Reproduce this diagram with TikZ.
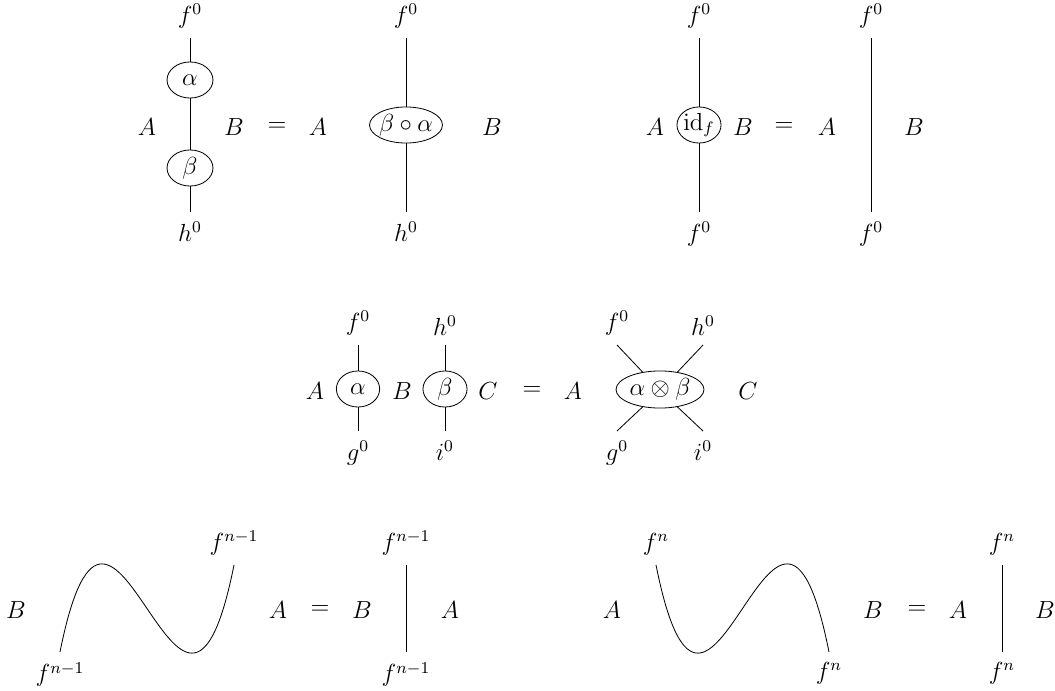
\documentclass[tikz,border=0pt]{standalone}
\usetikzlibrary{shapes.geometric,positioning}

\begin{document}
\begin{tikzpicture}[x=0.017062cm, y=-0.017062cm, font=\large,
  bead/.style={ellipse, draw, inner sep=0pt, minimum height=17.5pt},
  wire/.style={thin, black}
]
  \useasboundingbox (0,0) rectangle (1055,690);

  \coordinate (t1) at (190,38);   \coordinate (b1) at (190,212);
  \node[bead, minimum width=22.3pt, label=center:{$\alpha$}] (al) at (190,80) {};
  \node[bead, minimum width=22.3pt, label=center:{$\beta$}] (be) at (190,168) {};
  \node[above=1pt of t1] {$f^0$};
  \node[below=1.5pt of b1] {$h^0$};
  \draw[wire] (t1) -- (al);
  \draw[wire] (al) -- (be);
  \draw[wire] (be) -- (b1);
  \node (A1) at (147,127) {$A$};
  \node (B1) at (234,127) {$B$};
  \node (e1) at (277,127) {$=$};
  \node (A2) at (318,127) {$A$};
  \node (B2) at (492,127) {$B$};
  \coordinate (t2) at (406,38);   \coordinate (b2) at (406,212);
  \node[bead, minimum width=35.4pt, label=center:{$\beta\circ\alpha$}] (ba) at (406,125) {};
  \node[above=1pt of t2] {$f^0$};
  \node[below=1.5pt of b2] {$h^0$};
  \draw[wire] (t2) -- (ba);
  \draw[wire] (ba) -- (b2);

  \coordinate (t3) at (699,38);   \coordinate (b3) at (699,212);
  \node[bead, minimum width=21.4pt, label=center:{$\mathrm{id}_f$}] (idf) at (699,125) {};
  \node[above=1pt of t3] {$f^0$};
  \node[below=1.5pt of b3] {$f^0$};
  \draw[wire] (t3) -- (idf);
  \draw[wire] (idf) -- (b3);
  \node (A3) at (655,127) {$A$};
  \node (B3) at (743,127) {$B$};
  \node (e2) at (784,127) {$=$};
  \node (A4) at (827,127) {$A$};
  \node (B4) at (914,127) {$B$};
  \coordinate (t4) at (871,38);   \coordinate (b4) at (871,212);
  \node[above=1pt of t4] {$f^0$};
  \node[below=1.5pt of b4] {$f^0$};
  \draw[wire] (t4) -- (b4);

  \coordinate (t5) at (358,345);  \coordinate (b5) at (358,431);
  \coordinate (t6) at (445,345);  \coordinate (b6) at (445,431);
  \node[bead, minimum width=21pt, label=center:{$\alpha$}] (al2) at (358,389) {};
  \node[bead, minimum width=21.4pt, label=center:{$\beta$}] (be2) at (445,389) {};
  \node[above=1pt of t5] {$f^0$};
  \node[below=1.5pt of b5] {$g^0$};
  \node[above=1pt of t6] {$h^0$};
  \node[below=1.5pt of b6] {$i^0$};
  \draw[wire] (t5) -- (al2);
  \draw[wire] (al2) -- (b5);
  \draw[wire] (t6) -- (be2);
  \draw[wire] (be2) -- (b6);
  \node (A5) at (315,391) {$A$};
  \node (B5) at (402,391) {$B$};
  \node (C5) at (488,391) {$C$};
  \node (e3) at (532,391) {$=$};
  \node (A6) at (573,391) {$A$};
  \node (C6) at (748,391) {$C$};
  \node[bead, minimum width=42.7pt, minimum height=18pt,
        label=center:{$\alpha\otimes\beta$}] (ab) at (660,389.5) {};
  \coordinate (ul) at (617,345);  \coordinate (ur) at (703,345);
  \coordinate (ll) at (617,431);  \coordinate (lr) at (703,431);
  \node[above=1pt of ul] {$f^0$};
  \node[above=1pt of ur] {$h^0$};
  \node[below=1.5pt of ll] {$g^0$};
  \node[below=1.5pt of lr] {$i^0$};
  \draw[wire] (ul) -- (ab.135);
  \draw[wire] (ur) -- (ab.45);
  \draw[wire] (ll) -- (ab.225);
  \draw[wire] (lr) -- (ab.315);

  \coordinate (s1) at (60,652);   \coordinate (s2) at (234,565);
  \node[below=1.5pt of s1] {$f^{n-1}$};
  \node[above=1pt of s2] {$f^{n-1}$};
  \draw[wire] (s1) .. controls +(53,-265) and +(-53,265) .. (s2);
  \node (B7) at (16,610)  {$B$};
  \node (A7) at (278,610) {$A$};
  \node (e4) at (320,610) {$=$};
  \node (B8) at (362,610) {$B$};
  \node (A8) at (450,610) {$A$};
  \coordinate (t7) at (406,565);  \coordinate (b7) at (406,652);
  \node[above=1pt of t7] {$f^{n-1}$};
  \node[below=1.5pt of b7] {$f^{n-1}$};
  \draw[wire] (t7) -- (b7);

  \coordinate (s3) at (829,652);  \coordinate (s4) at (656,565);
  \node[below=1.5pt of s3] {$f^{n}$};
  \node[above=1pt of s4] {$f^{n}$};
  \draw[wire] (s3) .. controls +(-53,-265) and +(53,265) .. (s4);
  \node (A9) at (612,610)  {$A$};
  \node (B9) at (873,610)  {$B$};
  \node (e5) at (917,610)  {$=$};
  \node (A10) at (958,610) {$A$};
  \node (B10) at (1045,610) {$B$};
  \coordinate (t8) at (1002,565); \coordinate (b8) at (1002,652);
  \node[above=1pt of t8] {$f^{n}$};
  \node[below=1.5pt of b8] {$f^{n}$};
  \draw[wire] (t8) -- (b8);
\end{tikzpicture}
\end{document}
